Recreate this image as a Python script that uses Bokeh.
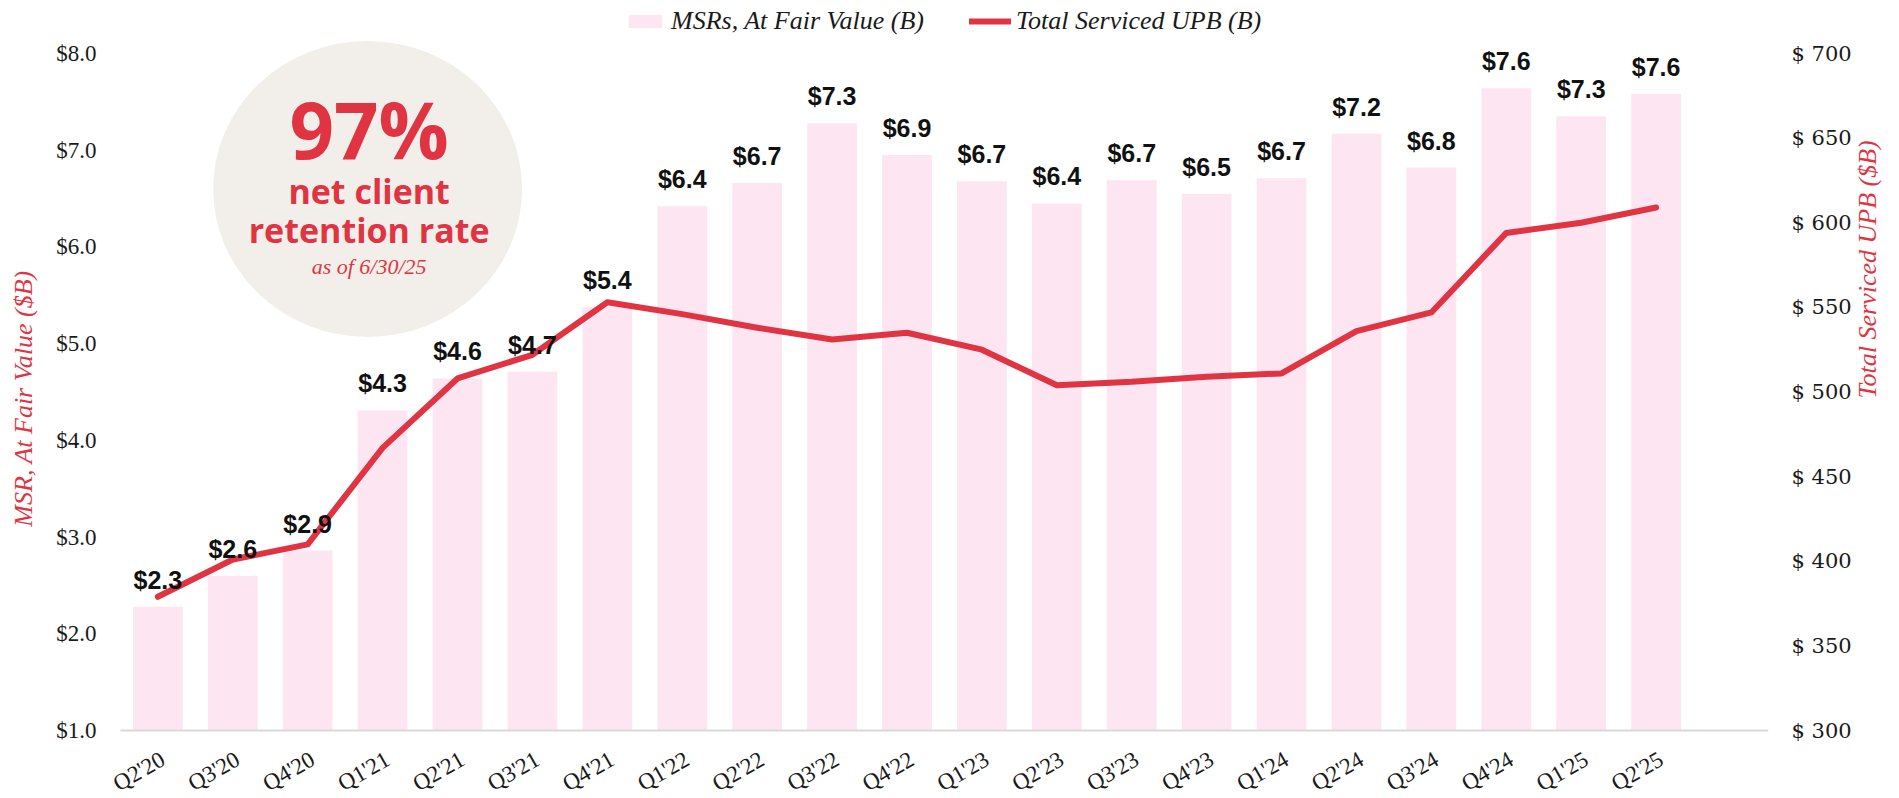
from math import pi
from bokeh.plotting import figure
from bokeh.models import (ColumnDataSource, Range1d, LinearAxis, FixedTicker,
                          PrintfTickFormatter, LabelSet, Label, Legend,
                          LegendItem)
from bokeh.core.properties import value
from bokeh.embed import file_html
from bokeh.resources import INLINE

# ---------------- data ----------------
quarters = ["Q2'20", "Q3'20", "Q4'20", "Q1'21", "Q2'21", "Q3'21", "Q4'21",
            "Q1'22", "Q2'22", "Q3'22", "Q4'22", "Q1'23", "Q2'23", "Q3'23",
            "Q4'23", "Q1'24", "Q2'24", "Q3'24", "Q4'24", "Q1'25", "Q2'25"]
msr = [2.28, 2.60, 2.86, 4.31, 4.64, 4.71, 5.38, 6.42, 6.66, 7.28, 6.95,
       6.68, 6.45, 6.69, 6.55, 6.71, 7.17, 6.82, 7.64, 7.35, 7.58]
msr_labels = ["$2.3", "$2.6", "$2.9", "$4.3", "$4.6", "$4.7", "$5.4", "$6.4",
              "$6.7", "$7.3", "$6.9", "$6.7", "$6.4", "$6.7", "$6.5", "$6.7",
              "$7.2", "$6.8", "$7.6", "$7.3", "$7.6"]
upb = [379, 401, 410, 467, 508, 522, 553, 546, 538, 531, 535, 525, 504, 506,
       509, 511, 536, 547, 594, 600, 609]
left_ticks = [1, 2, 3, 4, 5, 6, 7, 8]
right_ticks = [300, 350, 400, 450, 500, 550, 600, 650, 700]

RED = "#E03443"
PINK = "#FDE6F2"
BEIGE = "#F2EFEA"

# ---------------- layout constants ----------------
W, H = 1899, 796
PLOT_LEFT, PLOT_RIGHT = 120, 1776         # pixel columns of the baseline ends
FRAME_LEFT = 100                          # frame starts a bit left of baseline
PLOT_TOP, PLOT_BOTTOM = 53, 730           # pixel rows of $8.0 and $1.0
PPU = (PLOT_BOTTOM - PLOT_TOP) / 7.0      # pixels per $1B on the left axis
RPU = (PLOT_BOTTOM - PLOT_TOP) / 400.0    # pixels per $1B on the right axis

n = len(quarters)
XPU = (PLOT_RIGHT - PLOT_LEFT) / (n + 1)  # pixels per category slot
xs = [i + 0.5 for i in range(n)]
src = ColumnDataSource(dict(x=xs, q=quarters, msr=msr, lab=msr_labels, upb=upb))

p = figure(width=W, height=H, output_backend="svg", toolbar_location=None,
           x_axis_location=None,
           x_range=Range1d(-(PLOT_LEFT - FRAME_LEFT) / XPU, n + 1),
           y_range=Range1d(1 - (H - PLOT_BOTTOM) / PPU, 8 + PLOT_TOP / PPU))
p.extra_y_ranges = {"upb": Range1d(300 - (H - PLOT_BOTTOM) / RPU,
                                   700 + PLOT_TOP / RPU)}
p.min_border_left = FRAME_LEFT
p.min_border_right = W - PLOT_RIGHT
p.min_border_top = 0
p.min_border_bottom = 0
p.outline_line_color = None
p.xgrid.visible = False
p.ygrid.visible = False
p.background_fill_color = "white"
p.border_fill_color = "white"

# circle callout
p.ellipse(x=3.3, y=6.6, width=309, height=296, width_units="screen",
          height_units="screen", fill_color=BEIGE, line_color=None)

bars = p.vbar(x="x", top="msr", bottom=1, width=0.665, source=src,
              fill_color=PINK, line_color=None)

# x axis baseline
p.segment(x0=0, y0=1, x1=n + 1, y1=1, line_color="#D9D9D9", line_width=2)

line = p.line(x="x", y="upb", source=src, y_range_name="upb", line_color=RED,
              line_width=6, line_cap="round", line_join="round")

labels = LabelSet(x="x", y="msr", text="lab", source=src, y_offset=27,
                  text_align="center", text_baseline="middle",
                  text_font=value("Liberation Sans"), text_font_style="bold",
                  text_font_size="25px", text_color="#111111")
p.add_layout(labels)

qlabels = LabelSet(x="x", y=H - PLOT_BOTTOM - 27, y_units="screen", text="q",
                   source=src, x_offset=5, angle=pi / 6, text_align="right",
                   text_baseline="middle", text_font=value("Liberation Serif"),
                   text_font_size="23px", text_color="#1a1a1a")
p.add_layout(qlabels)

# left axis
ya = p.yaxis[0]
ya.ticker = FixedTicker(ticks=left_ticks)
ya.formatter = PrintfTickFormatter(format="$%.1f")
ya.major_label_text_font = "Liberation Serif"
ya.major_label_text_font_size = "23px"
ya.major_label_text_color = "#1a1a1a"
ya.major_label_standoff = 24 - (PLOT_LEFT - FRAME_LEFT)
ya.major_tick_out = 0
ya.major_tick_in = 0
ya.axis_line_color = None
ya.major_tick_line_color = None
ya.minor_tick_line_color = None
ya.axis_label = "MSR, At Fair Value ($B)"
ya.axis_label_text_font = "Liberation Serif"
ya.axis_label_text_font_style = "italic"
ya.axis_label_text_font_size = "26px"
ya.axis_label_text_color = RED
ya.axis_label_standoff = 15

# right axis
ra = LinearAxis(y_range_name="upb", ticker=FixedTicker(ticks=right_ticks),
                formatter=PrintfTickFormatter(format="$ %d"))
ra.major_label_text_font = "DejaVu Serif"
ra.major_label_text_font_size = "21px"
ra.major_label_text_color = "#1a1a1a"
ra.major_label_standoff = 23
ra.major_tick_out = 0
ra.major_tick_in = 0
ra.axis_line_color = None
ra.major_tick_line_color = None
ra.minor_tick_line_color = None
ra.axis_label = "Total Serviced UPB ($B)"
ra.axis_label_text_font = "Liberation Serif"
ra.axis_label_text_font_style = "italic"
ra.axis_label_text_font_size = "26px"
ra.axis_label_text_color = RED
ra.axis_label_standoff = 13
try:
    ra.axis_label_orientation = pi / 2
except Exception:
    pass
p.add_layout(ra, "right")

# callout text (vertical centres of each line, in left-axis units)
for txt, yy, size, font, style in [
        ("97%", 7.224, "78px", "Open Sans", "bold"),
        ("net client", 6.583, "34px", "Open Sans", "bold"),
        ("retention rate", 6.170, "34px", "Open Sans", "bold"),
        ("as of 6/30/25", 5.798, "22px", "Liberation Serif", "italic")]:
    p.add_layout(Label(x=3.32, y=yy, text=txt, text_align="center",
                       text_baseline="middle", text_font=font,
                       text_font_style=style, text_font_size=size,
                       text_color=RED))

legend = Legend(items=[LegendItem(label="MSRs, At Fair Value (B)", renderers=[bars]),
                       LegendItem(label="Total Serviced UPB (B)", renderers=[line])],
                orientation="horizontal", location=(624 - FRAME_LEFT, H - 36),
                glyph_width=42, glyph_height=16, label_standoff=5, spacing=45,
                padding=0, margin=0, border_line_color=None,
                background_fill_alpha=0,
                label_text_font="Liberation Serif", label_text_font_style="italic",
                label_text_font_size="26px", label_text_color="#1a1a1a")
p.add_layout(legend)

open("out.html", "w").write(file_html(p, INLINE))
